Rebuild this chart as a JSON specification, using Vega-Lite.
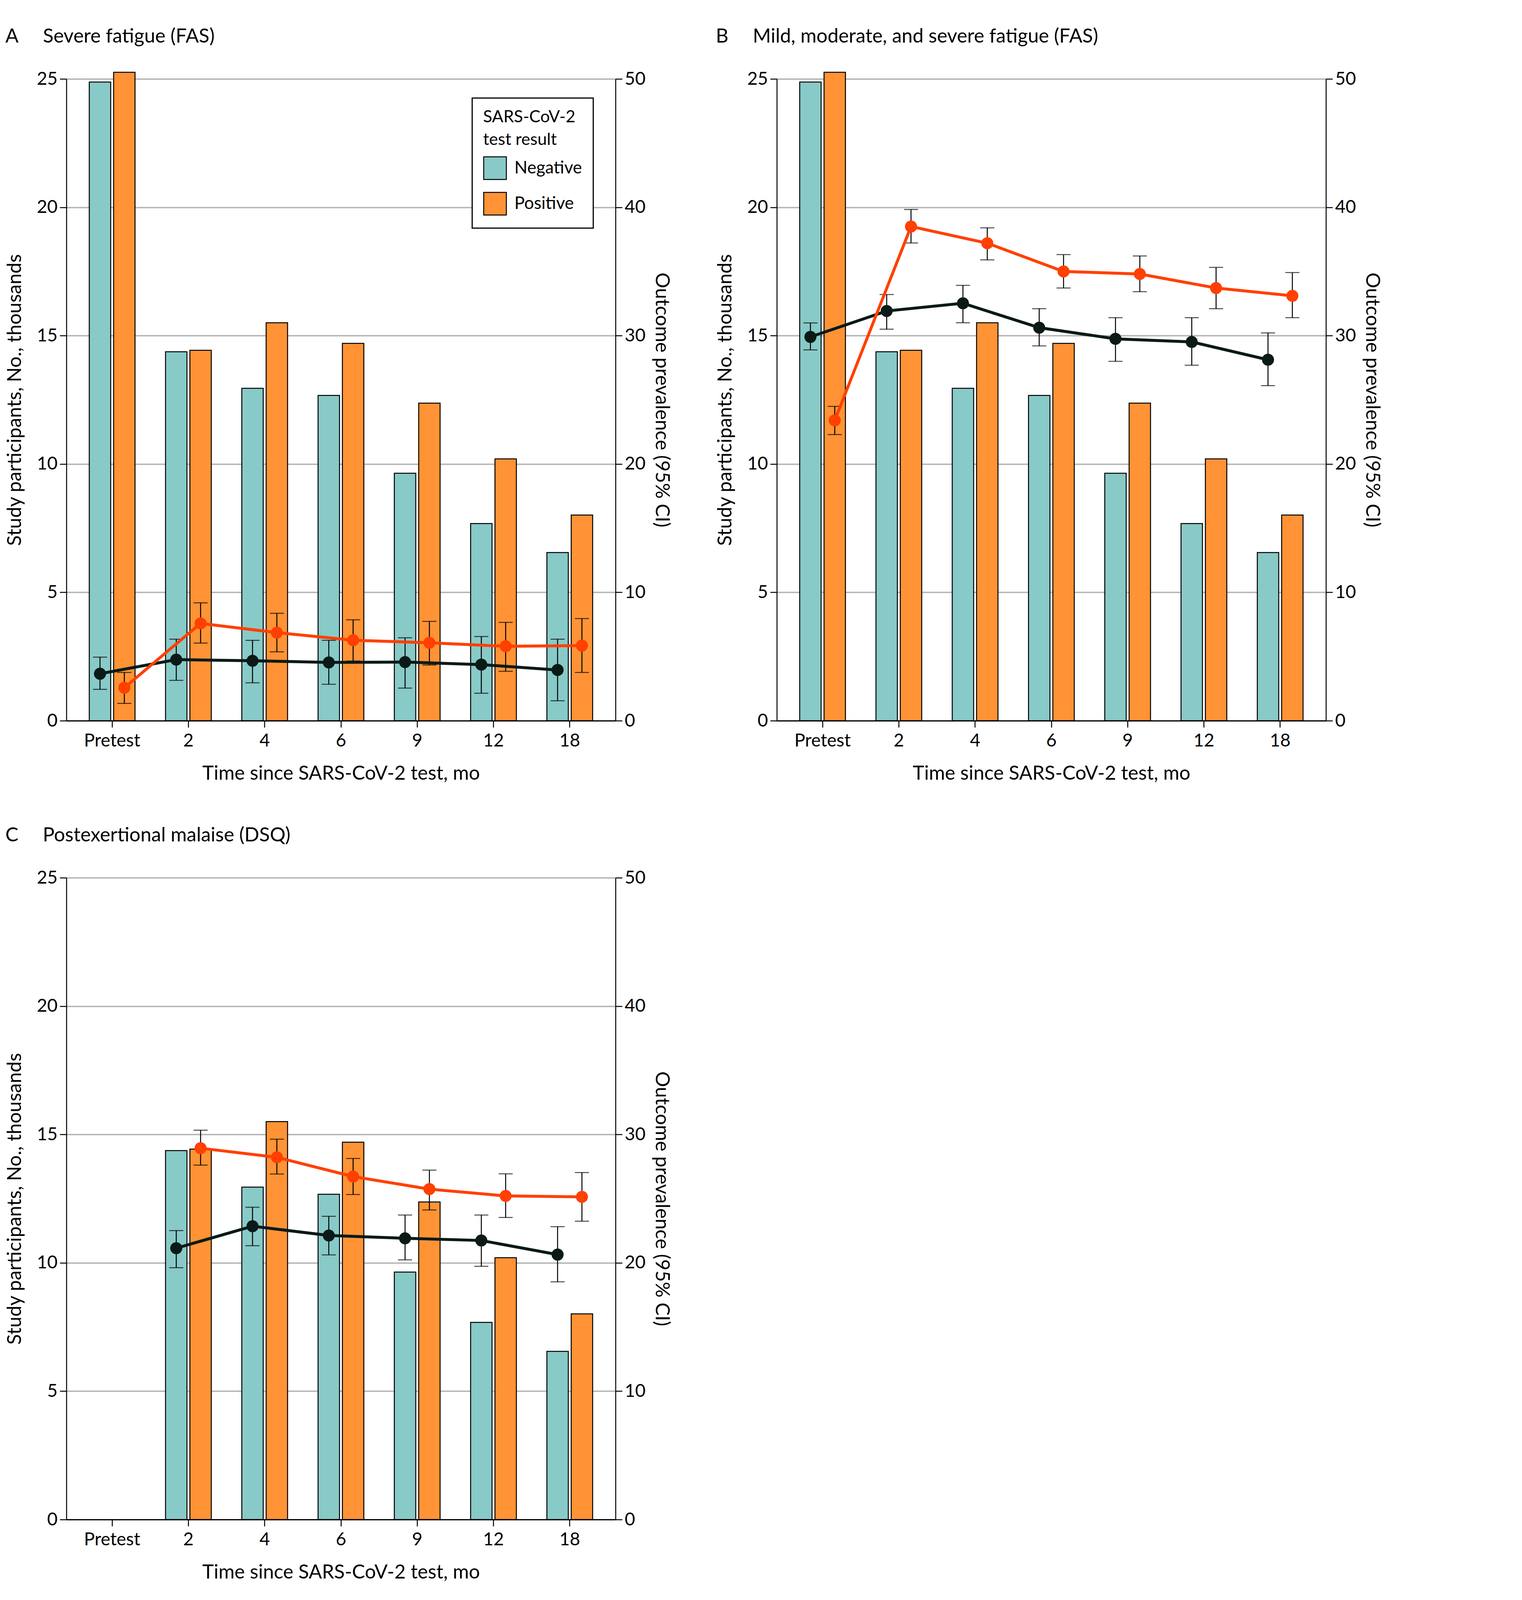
{
  "$schema": "https://vega.github.io/schema/vega-lite/v6.json",
  "background": "white",
  "padding": {"left": 13, "top": 69, "right": 0, "bottom": 0},
  "config": {
    "font": "Lato",
    "view": {"stroke": null},
    "legend": {"strokeWidth": 3},
    "axis": {
      "labelFontSize": 46, "titleFontSize": 50, "titleFontWeight": "normal",
      "labelColor": "black", "titleColor": "black", "domainColor": "black", "tickColor": "black",
      "domainWidth": 2.5, "tickWidth": 2.5, "tickSize": 17, "labelPadding": 6,
      "gridColor": "#b3b3b3", "gridWidth": 3.5
    },
    "title": {"fontSize": 50, "fontWeight": "normal", "anchor": "start", "frame": "bounds", "offset": 60, "color": "black"}
  },
  "datasets": {
    "bars": [
      {"panel": "A", "time": "Pretest", "result": "Negative", "n": 24.88},
      {"panel": "A", "time": "Pretest", "result": "Positive", "n": 25.26},
      {"panel": "A", "time": "2", "result": "Negative", "n": 14.37},
      {"panel": "A", "time": "2", "result": "Positive", "n": 14.43},
      {"panel": "A", "time": "4", "result": "Negative", "n": 12.95},
      {"panel": "A", "time": "4", "result": "Positive", "n": 15.5},
      {"panel": "A", "time": "6", "result": "Negative", "n": 12.67},
      {"panel": "A", "time": "6", "result": "Positive", "n": 14.7},
      {"panel": "A", "time": "9", "result": "Negative", "n": 9.64},
      {"panel": "A", "time": "9", "result": "Positive", "n": 12.37},
      {"panel": "A", "time": "12", "result": "Negative", "n": 7.68},
      {"panel": "A", "time": "12", "result": "Positive", "n": 10.2},
      {"panel": "A", "time": "18", "result": "Negative", "n": 6.55},
      {"panel": "A", "time": "18", "result": "Positive", "n": 8.01},
      {"panel": "B", "time": "Pretest", "result": "Negative", "n": 24.88},
      {"panel": "B", "time": "Pretest", "result": "Positive", "n": 25.26},
      {"panel": "B", "time": "2", "result": "Negative", "n": 14.37},
      {"panel": "B", "time": "2", "result": "Positive", "n": 14.43},
      {"panel": "B", "time": "4", "result": "Negative", "n": 12.95},
      {"panel": "B", "time": "4", "result": "Positive", "n": 15.5},
      {"panel": "B", "time": "6", "result": "Negative", "n": 12.67},
      {"panel": "B", "time": "6", "result": "Positive", "n": 14.7},
      {"panel": "B", "time": "9", "result": "Negative", "n": 9.64},
      {"panel": "B", "time": "9", "result": "Positive", "n": 12.37},
      {"panel": "B", "time": "12", "result": "Negative", "n": 7.68},
      {"panel": "B", "time": "12", "result": "Positive", "n": 10.2},
      {"panel": "B", "time": "18", "result": "Negative", "n": 6.55},
      {"panel": "B", "time": "18", "result": "Positive", "n": 8.01},
      {"panel": "C", "time": "2", "result": "Negative", "n": 14.37},
      {"panel": "C", "time": "2", "result": "Positive", "n": 14.43},
      {"panel": "C", "time": "4", "result": "Negative", "n": 12.95},
      {"panel": "C", "time": "4", "result": "Positive", "n": 15.5},
      {"panel": "C", "time": "6", "result": "Negative", "n": 12.67},
      {"panel": "C", "time": "6", "result": "Positive", "n": 14.7},
      {"panel": "C", "time": "9", "result": "Negative", "n": 9.64},
      {"panel": "C", "time": "9", "result": "Positive", "n": 12.37},
      {"panel": "C", "time": "12", "result": "Negative", "n": 7.68},
      {"panel": "C", "time": "12", "result": "Positive", "n": 10.2},
      {"panel": "C", "time": "18", "result": "Negative", "n": 6.55},
      {"panel": "C", "time": "18", "result": "Positive", "n": 8.01}
    ],
    "lines": [
      {"panel": "A", "time": "Pretest", "result": "Negative", "est": 3.66, "lo": 2.44, "hi": 4.95},
      {"panel": "A", "time": "2", "result": "Negative", "est": 4.76, "lo": 3.14, "hi": 6.35},
      {"panel": "A", "time": "4", "result": "Negative", "est": 4.67, "lo": 2.95, "hi": 6.26},
      {"panel": "A", "time": "6", "result": "Negative", "est": 4.54, "lo": 2.84, "hi": 6.26},
      {"panel": "A", "time": "9", "result": "Negative", "est": 4.57, "lo": 2.54, "hi": 6.46},
      {"panel": "A", "time": "12", "result": "Negative", "est": 4.37, "lo": 2.14, "hi": 6.56},
      {"panel": "A", "time": "18", "result": "Negative", "est": 3.95, "lo": 1.55, "hi": 6.35},
      {"panel": "A", "time": "Pretest", "result": "Positive", "est": 2.57, "lo": 1.35, "hi": 3.76},
      {"panel": "A", "time": "2", "result": "Positive", "est": 7.58, "lo": 6.05, "hi": 9.18},
      {"panel": "A", "time": "4", "result": "Positive", "est": 6.86, "lo": 5.36, "hi": 8.37},
      {"panel": "A", "time": "6", "result": "Positive", "est": 6.27, "lo": 4.65, "hi": 7.86},
      {"panel": "A", "time": "9", "result": "Positive", "est": 6.07, "lo": 4.34, "hi": 7.74},
      {"panel": "A", "time": "12", "result": "Positive", "est": 5.8, "lo": 3.85, "hi": 7.66},
      {"panel": "A", "time": "18", "result": "Positive", "est": 5.85, "lo": 3.76, "hi": 7.96},
      {"panel": "B", "time": "Pretest", "result": "Negative", "est": 29.9, "lo": 28.89, "hi": 30.99},
      {"panel": "B", "time": "2", "result": "Negative", "est": 31.92, "lo": 30.5, "hi": 33.2},
      {"panel": "B", "time": "4", "result": "Negative", "est": 32.52, "lo": 31.0, "hi": 33.92},
      {"panel": "B", "time": "6", "result": "Negative", "est": 30.62, "lo": 29.2, "hi": 32.1},
      {"panel": "B", "time": "9", "result": "Negative", "est": 29.75, "lo": 28.0, "hi": 31.4},
      {"panel": "B", "time": "12", "result": "Negative", "est": 29.51, "lo": 27.69, "hi": 31.4},
      {"panel": "B", "time": "18", "result": "Negative", "est": 28.12, "lo": 26.1, "hi": 30.21},
      {"panel": "B", "time": "Pretest", "result": "Positive", "est": 23.4, "lo": 22.29, "hi": 24.49},
      {"panel": "B", "time": "2", "result": "Positive", "est": 38.5, "lo": 37.22, "hi": 39.83},
      {"panel": "B", "time": "4", "result": "Positive", "est": 37.2, "lo": 35.9, "hi": 38.4},
      {"panel": "B", "time": "6", "result": "Positive", "est": 35.0, "lo": 33.71, "hi": 36.31},
      {"panel": "B", "time": "9", "result": "Positive", "est": 34.8, "lo": 33.42, "hi": 36.21},
      {"panel": "B", "time": "12", "result": "Positive", "est": 33.71, "lo": 32.1, "hi": 35.32},
      {"panel": "B", "time": "18", "result": "Positive", "est": 33.1, "lo": 31.4, "hi": 34.91},
      {"panel": "C", "time": "2", "result": "Negative", "est": 21.14, "lo": 19.62, "hi": 22.51},
      {"panel": "C", "time": "4", "result": "Negative", "est": 22.85, "lo": 21.33, "hi": 24.33},
      {"panel": "C", "time": "6", "result": "Negative", "est": 22.13, "lo": 20.62, "hi": 23.62},
      {"panel": "C", "time": "9", "result": "Negative", "est": 21.91, "lo": 20.23, "hi": 23.72},
      {"panel": "C", "time": "12", "result": "Negative", "est": 21.74, "lo": 19.73, "hi": 23.72},
      {"panel": "C", "time": "18", "result": "Negative", "est": 20.64, "lo": 18.52, "hi": 22.82},
      {"panel": "C", "time": "2", "result": "Positive", "est": 28.93, "lo": 27.61, "hi": 30.33},
      {"panel": "C", "time": "4", "result": "Positive", "est": 28.22, "lo": 26.92, "hi": 29.63},
      {"panel": "C", "time": "6", "result": "Positive", "est": 26.72, "lo": 25.32, "hi": 28.13},
      {"panel": "C", "time": "9", "result": "Positive", "est": 25.74, "lo": 24.12, "hi": 27.22},
      {"panel": "C", "time": "12", "result": "Positive", "est": 25.21, "lo": 23.53, "hi": 26.93},
      {"panel": "C", "time": "18", "result": "Positive", "est": 25.14, "lo": 23.24, "hi": 27.03}
    ]
  },
  "columns": 2,
  "spacing": {"row": 109, "column": 113},
  "resolve": {"scale": {"color": "independent"}, "legend": {"color": "independent"}},
  "concat": [
    {
      "title": {"text": "A\u2003\u2002Severe fatigue (FAS)"},
      "width": 1406, "height": 1643,
      "encoding": {
        "x": {"field": "time", "type": "nominal", "sort": ["Pretest", "2", "4", "6", "9", "12", "18"],
          "scale": {"domain": ["Pretest", "2", "4", "6", "9", "12", "18"], "paddingInner": 0.4, "paddingOuter": 0.3},
          "axis": {"title": "Time since SARS-CoV-2 test, mo", "labelAngle": 0, "labelPadding": 12, "titlePadding": 36, "domainWidth": 3}},
        "xOffset": {"field": "result", "type": "nominal", "scale": {"domain": ["Negative", "Positive"], "paddingInner": 0.12}}
      },
      "layer": [
        {
          "data": {"name": "bars"},
          "transform": [{"filter": "datum.panel === 'A'"}],
          "mark": {"type": "bar", "stroke": "black", "strokeWidth": 2.5},
          "encoding": {
            "y": {"field": "n", "type": "quantitative", "scale": {"domain": [0, 25], "nice": false},
              "axis": {"orient": "left", "title": "Study participants, No., thousands", "values": [0, 5, 10, 15, 20, 25], "grid": true, "titlePadding": 30}},
            "color": {"field": "result", "type": "nominal", "scale": {"domain": ["Negative", "Positive"], "range": ["#88cac7", "#ff9335"]},
              "legend": {"title": ["SARS-CoV-2", "test result"], "orient": "none", "legendX": 1039, "legendY": 49,
                "strokeColor": "black", "fillColor": "white", "padding": 28, "labelLimit": 0, "titleLimit": 0,
                "symbolType": "square", "symbolSize": 3364, "symbolStrokeColor": "black", "symbolStrokeWidth": 2.5,
                "labelFontSize": 44, "titleFontSize": 43, "titleFontWeight": "normal", "titleLineHeight": 58,
                "rowPadding": 22, "labelOffset": 19, "titlePadding": 20, "labelColor": "black", "titleColor": "black"}}
          }
        },
        {
          "data": {"name": "lines"},
          "transform": [{"filter": "datum.panel === 'A'"}],
          "layer": [
            {"mark": {"type": "rule", "color": "black", "strokeWidth": 2.5},
              "encoding": {"y": {"field": "lo", "type": "quantitative", "scale": {"domain": [0, 50], "nice": false},
                "axis": {"orient": "right", "title": "Outcome prevalence (95% CI)", "values": [0, 10, 20, 30, 40, 50], "grid": false, "titlePadding": 16}},
                "y2": {"field": "hi"}}},
            {"mark": {"type": "tick", "color": "black", "size": 36, "thickness": 2.5},
              "encoding": {"y": {"field": "lo", "type": "quantitative", "scale": {"domain": [0, 50], "nice": false},
                "axis": {"orient": "right", "title": "Outcome prevalence (95% CI)", "values": [0, 10, 20, 30, 40, 50], "grid": false, "titlePadding": 16}}}},
            {"mark": {"type": "tick", "color": "black", "size": 36, "thickness": 2.5},
              "encoding": {"y": {"field": "hi", "type": "quantitative", "scale": {"domain": [0, 50], "nice": false},
                "axis": {"orient": "right", "title": "Outcome prevalence (95% CI)", "values": [0, 10, 20, 30, 40, 50], "grid": false, "titlePadding": 16}}}},
            {"mark": {"type": "line", "strokeWidth": 7.5},
              "encoding": {"y": {"field": "est", "type": "quantitative", "scale": {"domain": [0, 50], "nice": false},
                "axis": {"orient": "right", "title": "Outcome prevalence (95% CI)", "values": [0, 10, 20, 30, 40, 50], "grid": false, "titlePadding": 16}},
                "stroke": {"field": "result", "type": "nominal", "scale": {"domain": ["Negative", "Positive"], "range": ["#0a1a17", "#ff4000"]}, "legend": null}}},
            {"mark": {"type": "point", "filled": true, "size": 950, "opacity": 1, "strokeWidth": 0},
              "encoding": {"y": {"field": "est", "type": "quantitative", "scale": {"domain": [0, 50], "nice": false},
                "axis": {"orient": "right", "title": "Outcome prevalence (95% CI)", "values": [0, 10, 20, 30, 40, 50], "grid": false, "titlePadding": 16}},
                "fill": {"field": "result", "type": "nominal", "scale": {"domain": ["Negative", "Positive"], "range": ["#0a1a17", "#ff4000"]}, "legend": null}}}
          ]
        }
      ],
      "resolve": {"scale": {"y": "independent"}, "axis": {"y": "independent"}}
    },
    {
      "title": {"text": "B\u2003\u2002Mild, moderate, and severe fatigue (FAS)"},
      "width": 1406, "height": 1643,
      "encoding": {
        "x": {"field": "time", "type": "nominal", "sort": ["Pretest", "2", "4", "6", "9", "12", "18"],
          "scale": {"domain": ["Pretest", "2", "4", "6", "9", "12", "18"], "paddingInner": 0.4, "paddingOuter": 0.3},
          "axis": {"title": "Time since SARS-CoV-2 test, mo", "labelAngle": 0, "labelPadding": 12, "titlePadding": 36, "domainWidth": 3}},
        "xOffset": {"field": "result", "type": "nominal", "scale": {"domain": ["Negative", "Positive"], "paddingInner": 0.12}}
      },
      "layer": [
        {
          "data": {"name": "bars"},
          "transform": [{"filter": "datum.panel === 'B'"}],
          "mark": {"type": "bar", "stroke": "black", "strokeWidth": 2.5},
          "encoding": {
            "y": {"field": "n", "type": "quantitative", "scale": {"domain": [0, 25], "nice": false},
              "axis": {"orient": "left", "title": "Study participants, No., thousands", "values": [0, 5, 10, 15, 20, 25], "grid": true, "titlePadding": 30}},
            "color": {"field": "result", "type": "nominal", "scale": {"domain": ["Negative", "Positive"], "range": ["#88cac7", "#ff9335"]}, "legend": null}
          }
        },
        {
          "data": {"name": "lines"},
          "transform": [{"filter": "datum.panel === 'B'"}],
          "layer": [
            {"mark": {"type": "rule", "color": "black", "strokeWidth": 2.5},
              "encoding": {"y": {"field": "lo", "type": "quantitative", "scale": {"domain": [0, 50], "nice": false},
                "axis": {"orient": "right", "title": "Outcome prevalence (95% CI)", "values": [0, 10, 20, 30, 40, 50], "grid": false, "titlePadding": 16}},
                "y2": {"field": "hi"}}},
            {"mark": {"type": "tick", "color": "black", "size": 36, "thickness": 2.5},
              "encoding": {"y": {"field": "lo", "type": "quantitative", "scale": {"domain": [0, 50], "nice": false},
                "axis": {"orient": "right", "title": "Outcome prevalence (95% CI)", "values": [0, 10, 20, 30, 40, 50], "grid": false, "titlePadding": 16}}}},
            {"mark": {"type": "tick", "color": "black", "size": 36, "thickness": 2.5},
              "encoding": {"y": {"field": "hi", "type": "quantitative", "scale": {"domain": [0, 50], "nice": false},
                "axis": {"orient": "right", "title": "Outcome prevalence (95% CI)", "values": [0, 10, 20, 30, 40, 50], "grid": false, "titlePadding": 16}}}},
            {"mark": {"type": "line", "strokeWidth": 7.5},
              "encoding": {"y": {"field": "est", "type": "quantitative", "scale": {"domain": [0, 50], "nice": false},
                "axis": {"orient": "right", "title": "Outcome prevalence (95% CI)", "values": [0, 10, 20, 30, 40, 50], "grid": false, "titlePadding": 16}},
                "stroke": {"field": "result", "type": "nominal", "scale": {"domain": ["Negative", "Positive"], "range": ["#0a1a17", "#ff4000"]}, "legend": null}}},
            {"mark": {"type": "point", "filled": true, "size": 950, "opacity": 1, "strokeWidth": 0},
              "encoding": {"y": {"field": "est", "type": "quantitative", "scale": {"domain": [0, 50], "nice": false},
                "axis": {"orient": "right", "title": "Outcome prevalence (95% CI)", "values": [0, 10, 20, 30, 40, 50], "grid": false, "titlePadding": 16}},
                "fill": {"field": "result", "type": "nominal", "scale": {"domain": ["Negative", "Positive"], "range": ["#0a1a17", "#ff4000"]}, "legend": null}}}
          ]
        }
      ],
      "resolve": {"scale": {"y": "independent"}, "axis": {"y": "independent"}}
    },
    {
      "title": {"text": "C\u2003\u2002Postexertional malaise (DSQ)"},
      "width": 1406, "height": 1643,
      "encoding": {
        "x": {"field": "time", "type": "nominal", "sort": ["Pretest", "2", "4", "6", "9", "12", "18"],
          "scale": {"domain": ["Pretest", "2", "4", "6", "9", "12", "18"], "paddingInner": 0.4, "paddingOuter": 0.3},
          "axis": {"title": "Time since SARS-CoV-2 test, mo", "labelAngle": 0, "labelPadding": 12, "titlePadding": 36, "domainWidth": 3}},
        "xOffset": {"field": "result", "type": "nominal", "scale": {"domain": ["Negative", "Positive"], "paddingInner": 0.12}}
      },
      "layer": [
        {
          "data": {"name": "bars"},
          "transform": [{"filter": "datum.panel === 'C'"}],
          "mark": {"type": "bar", "stroke": "black", "strokeWidth": 2.5},
          "encoding": {
            "y": {"field": "n", "type": "quantitative", "scale": {"domain": [0, 25], "nice": false},
              "axis": {"orient": "left", "title": "Study participants, No., thousands", "values": [0, 5, 10, 15, 20, 25], "grid": true, "titlePadding": 30}},
            "color": {"field": "result", "type": "nominal", "scale": {"domain": ["Negative", "Positive"], "range": ["#88cac7", "#ff9335"]}, "legend": null}
          }
        },
        {
          "data": {"name": "lines"},
          "transform": [{"filter": "datum.panel === 'C'"}],
          "layer": [
            {"mark": {"type": "rule", "color": "black", "strokeWidth": 2.5},
              "encoding": {"y": {"field": "lo", "type": "quantitative", "scale": {"domain": [0, 50], "nice": false},
                "axis": {"orient": "right", "title": "Outcome prevalence (95% CI)", "values": [0, 10, 20, 30, 40, 50], "grid": false, "titlePadding": 16}},
                "y2": {"field": "hi"}}},
            {"mark": {"type": "tick", "color": "black", "size": 36, "thickness": 2.5},
              "encoding": {"y": {"field": "lo", "type": "quantitative", "scale": {"domain": [0, 50], "nice": false},
                "axis": {"orient": "right", "title": "Outcome prevalence (95% CI)", "values": [0, 10, 20, 30, 40, 50], "grid": false, "titlePadding": 16}}}},
            {"mark": {"type": "tick", "color": "black", "size": 36, "thickness": 2.5},
              "encoding": {"y": {"field": "hi", "type": "quantitative", "scale": {"domain": [0, 50], "nice": false},
                "axis": {"orient": "right", "title": "Outcome prevalence (95% CI)", "values": [0, 10, 20, 30, 40, 50], "grid": false, "titlePadding": 16}}}},
            {"mark": {"type": "line", "strokeWidth": 7.5},
              "encoding": {"y": {"field": "est", "type": "quantitative", "scale": {"domain": [0, 50], "nice": false},
                "axis": {"orient": "right", "title": "Outcome prevalence (95% CI)", "values": [0, 10, 20, 30, 40, 50], "grid": false, "titlePadding": 16}},
                "stroke": {"field": "result", "type": "nominal", "scale": {"domain": ["Negative", "Positive"], "range": ["#0a1a17", "#ff4000"]}, "legend": null}}},
            {"mark": {"type": "point", "filled": true, "size": 950, "opacity": 1, "strokeWidth": 0},
              "encoding": {"y": {"field": "est", "type": "quantitative", "scale": {"domain": [0, 50], "nice": false},
                "axis": {"orient": "right", "title": "Outcome prevalence (95% CI)", "values": [0, 10, 20, 30, 40, 50], "grid": false, "titlePadding": 16}},
                "fill": {"field": "result", "type": "nominal", "scale": {"domain": ["Negative", "Positive"], "range": ["#0a1a17", "#ff4000"]}, "legend": null}}}
          ]
        }
      ],
      "resolve": {"scale": {"y": "independent"}, "axis": {"y": "independent"}}
    }
  ]
}
